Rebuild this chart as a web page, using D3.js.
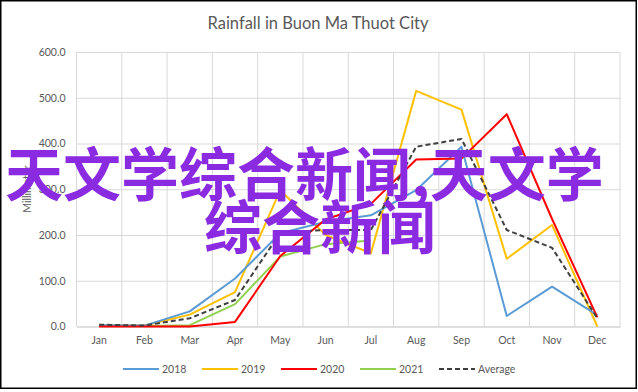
<!DOCTYPE html>
<html><head><meta charset="utf-8">
<script src="https://cdn.jsdelivr.net/npm/d3@7"></script>
<style>
html,body{margin:0;padding:0;background:#fff;}
svg{display:block;}
</style></head>
<body>
<svg id="chart" width="638" height="392"></svg>
<script>
const months = ["Jan","Feb","Mar","Apr","May","Jun","Jul","Aug","Sep","Oct","Nov","Dec"];
const yTicks = [0,100,200,300,400,500,600];
const s2018 = [3,2,33,105,204,229,243,298,393,23,87,25];
const s2019 = [2,2,26,75,298,200,160,515,474,148,222,0];
const s2020 = [0,0,0,10,154,234,268,365,367,464,235,20];
const s2021 = [2,1,3,49,153,180,188];
const sAvg  = [4,2,18,58,205,211,211,393,410,211,172,18];
const seriesNames = ["2018","2019","2020","2021","Average"];
const seriesData = [s2018,s2019,s2020,s2021,sAvg];
const seriesColors = ["#5b9bd5","#ffc000","#ff0000","#92d050","#404040"];
const seriesDash = [null,null,null,null,"5,3"];
const title = "Rainfall in Buon Ma Thuot City";
const yTitle = "Millimeter";
const overlay1 = "天文学综合新闻,天文学";
const overlay2 = "综合新闻";

const svg = d3.select("#chart");
const W = 638, H = 392;
const m = {left:76.5, right:18, top:52, bottom:65.5};
const x = d3.scaleBand().domain(months).range([m.left, W - m.right]).paddingInner(0).paddingOuter(0);
const y = d3.scaleLinear().domain([0,600]).range([H - m.bottom, m.top]);
const font = "Lato, 'Liberation Sans', sans-serif";
const grey = "#595959";

svg.append("rect").attr("x",0).attr("y",0).attr("width",W).attr("height",H).attr("fill","#fff");

// horizontal grid
const gy = svg.append("g").attr("transform",`translate(${m.left},0)`)
  .call(d3.axisLeft(y).tickValues(yTicks).tickSize(-(W - m.left - m.right)).tickFormat(d3.format(".1f")).tickPadding(11));
gy.select(".domain").remove();
gy.selectAll(".tick line").attr("stroke","#d9d9d9").attr("stroke-width",1);
gy.selectAll(".tick text").attr("fill",grey).style("font-family",font).style("font-size","10.5px");

// vertical grid at band boundaries
const bounds = months.map(d => x(d)).concat([x(months[11]) + x.bandwidth()]);
svg.append("g").selectAll("line").data(bounds).join("line")
  .attr("x1",d=>d).attr("x2",d=>d).attr("y1",y(600)).attr("y2",y(0))
  .attr("stroke","#d9d9d9").attr("stroke-width",1);

// x axis
const gx = svg.append("g").attr("transform",`translate(0,${y(0)})`)
  .call(d3.axisBottom(x).tickSize(0).tickPadding(10));
gx.select(".domain").attr("stroke","#d0d0d0");
gx.selectAll(".tick text").attr("fill",grey).style("font-family",font).style("font-size","10.5px");

// title
svg.append("text").attr("x",318).attr("y",29).attr("text-anchor","middle")
  .attr("fill",grey).style("font-family",font).style("font-size","16.5px").text(title);

// y title
svg.append("text").attr("transform",`translate(31,${(y(0)+y(600))/2}) rotate(-90)`)
  .attr("text-anchor","middle").attr("fill",grey).style("font-family",font).style("font-size","10.5px").text(yTitle);

// lines
const line = d3.line().x((d,i)=> x(months[i]) + x.bandwidth()/2).y(d=>y(d));
const order = [3,1,0,2,4];
order.forEach(k => {
  svg.append("path").datum(seriesData[k]).attr("d",line)
    .attr("fill","none").attr("stroke",seriesColors[k]).attr("stroke-width",2)
    .attr("stroke-linejoin","round")
    .attr("stroke-dasharray",seriesDash[k]);
});

// legend
const lg = svg.append("g").attr("transform","translate(123,369)");
seriesNames.forEach((n,i)=>{
  const g = lg.append("g").attr("transform",`translate(${i*79},0)`);
  g.append("line").attr("x1",0).attr("x2",36).attr("y1",0).attr("y2",0)
    .attr("stroke",seriesColors[i]).attr("stroke-width",2).attr("stroke-dasharray",seriesDash[i]);
  g.append("text").attr("x",39).attr("y",4).attr("fill",grey)
    .style("font-family",font).style("font-size","10.5px").text(n);
});

// frame
svg.append("rect").attr("x",0.75).attr("y",0.75).attr("width",W-2.5).attr("height",H-4.5)
  .attr("fill","none").attr("stroke","#000").attr("stroke-width",1.5);

// overlay text
const ofont = "'Noto Sans CJK SC', sans-serif";
svg.append("text").attr("x",5).attr("y",196)
  .attr("fill","#8a2be2").style("font-family",ofont).style("font-weight","bold").style("font-size","58px").text(overlay1);
svg.append("text").attr("x",320).attr("y",249).attr("text-anchor","middle")
  .attr("fill","#8a2be2").style("font-family",ofont).style("font-weight","bold").style("font-size","58px").text(overlay2);
</script>
</body></html>
